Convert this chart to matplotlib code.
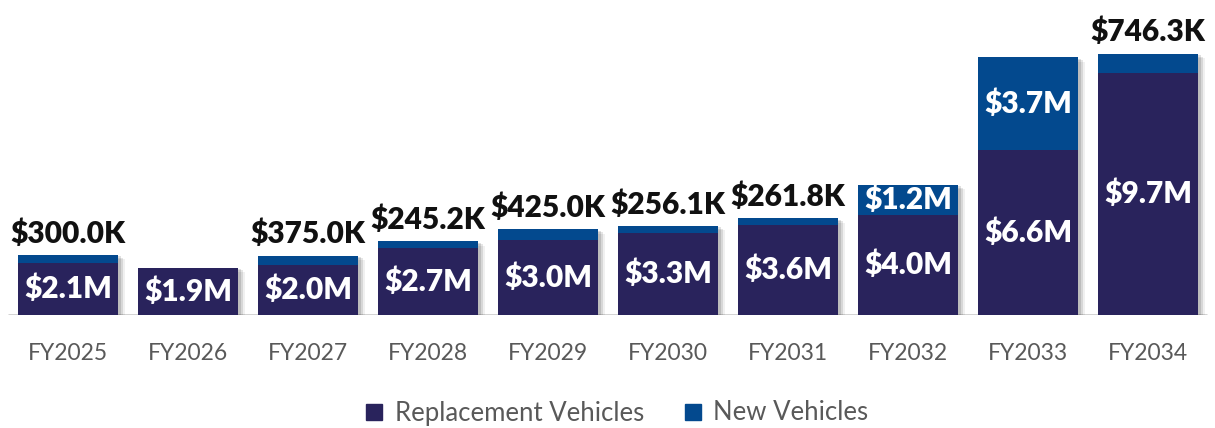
import matplotlib
matplotlib.use("Agg")
import matplotlib.pyplot as plt
import matplotlib.patheffects as pe
from matplotlib.lines import Line2D

# Fleet spending by fiscal year (millions of dollars)
years = ["FY2025", "FY2026", "FY2027", "FY2028", "FY2029",
         "FY2030", "FY2031", "FY2032", "FY2033", "FY2034"]
replacement = [2.1, 1.9, 2.0, 2.7, 3.0, 3.3, 3.6, 4.0, 6.6, 9.7]
new_vehicles = [0.3, 0.0, 0.375, 0.2452, 0.425, 0.2561, 0.2618, 1.2, 3.7, 0.7463]

NAVY = "#29235c"
BLUE = "#03498e"
TEXT_GRAY = "#595959"

plt.rcParams["font.family"] = ["Lato", "DejaVu Sans"]


def money(v):
    if v >= 1:
        return f"${v:.1f}M"
    return f"${v * 1000:.1f}K"


fig = plt.figure(figsize=(12.15, 4.28), dpi=100)
ax = fig.add_axes([0, 113 / 428, 1, 315 / 428])
ax.set_xlim(-68 / 120, (1215 - 68) / 120)
ax.set_ylim(0, 12.6)
ax.axis("off")

x = list(range(len(years)))
width = 100 / 120
totals = [r + n for r, n in zip(replacement, new_vehicles)]

# soft drop shadow behind each full stack
shadow = [pe.SimplePatchShadow(offset=(5, -3), shadow_rgbFace="#000000", alpha=0.06),
          pe.SimplePatchShadow(offset=(3.5, -2), shadow_rgbFace="#000000", alpha=0.10),
          pe.SimplePatchShadow(offset=(2, -1), shadow_rgbFace="#000000", alpha=0.12)]
backs = ax.bar(x, totals, width=width, color="none", zorder=2)
for b in backs:
    b.set_path_effects(shadow)

ax.bar(x, replacement, width=width, color=NAVY, zorder=3)
ax.bar(x, new_vehicles, width=width, bottom=replacement, color=BLUE, zorder=3)

# baseline
ax.plot([-60 / 120, (1207 - 68) / 120], [0, 0], color="#cfcfcf", lw=2, zorder=1,
        solid_capstyle="butt")

label_kw = dict(fontsize=21.5, fontweight="heavy", ha="center", va="center", zorder=5)
for i, (r, n) in enumerate(zip(replacement, new_vehicles)):
    ax.text(i, r / 2, money(r), color="white", **label_kw)
    if n >= 1:
        ax.text(i, r + n / 2, money(n), color="white", **label_kw)
    elif n > 0:
        ax.text(i, r + n + 0.3, money(n), color="#111111",
                fontsize=21.5, fontweight="heavy", ha="center", va="bottom", zorder=5)

trans = ax.get_xaxis_transform()
for i, name in enumerate(years):
    ax.annotate(name, xy=(i, 0), xycoords=trans, xytext=(0, -38), textcoords="offset pixels",
                ha="center", va="center", fontsize=16.5, color=TEXT_GRAY)

handles = [Line2D([], [], marker="s", linestyle="none", markersize=12, color=NAVY),
           Line2D([], [], marker="s", linestyle="none", markersize=12, color=BLUE)]
fig.legend(handles, ["Replacement Vehicles", "New Vehicles"], loc="center",
           bbox_to_anchor=(0.505, 15 / 428), ncol=2, frameon=False, fontsize=18.5,
           labelcolor=TEXT_GRAY, handletextpad=0.2, columnspacing=1.3,
           handlelength=1.2)

fig.savefig("out.png", dpi=100)
